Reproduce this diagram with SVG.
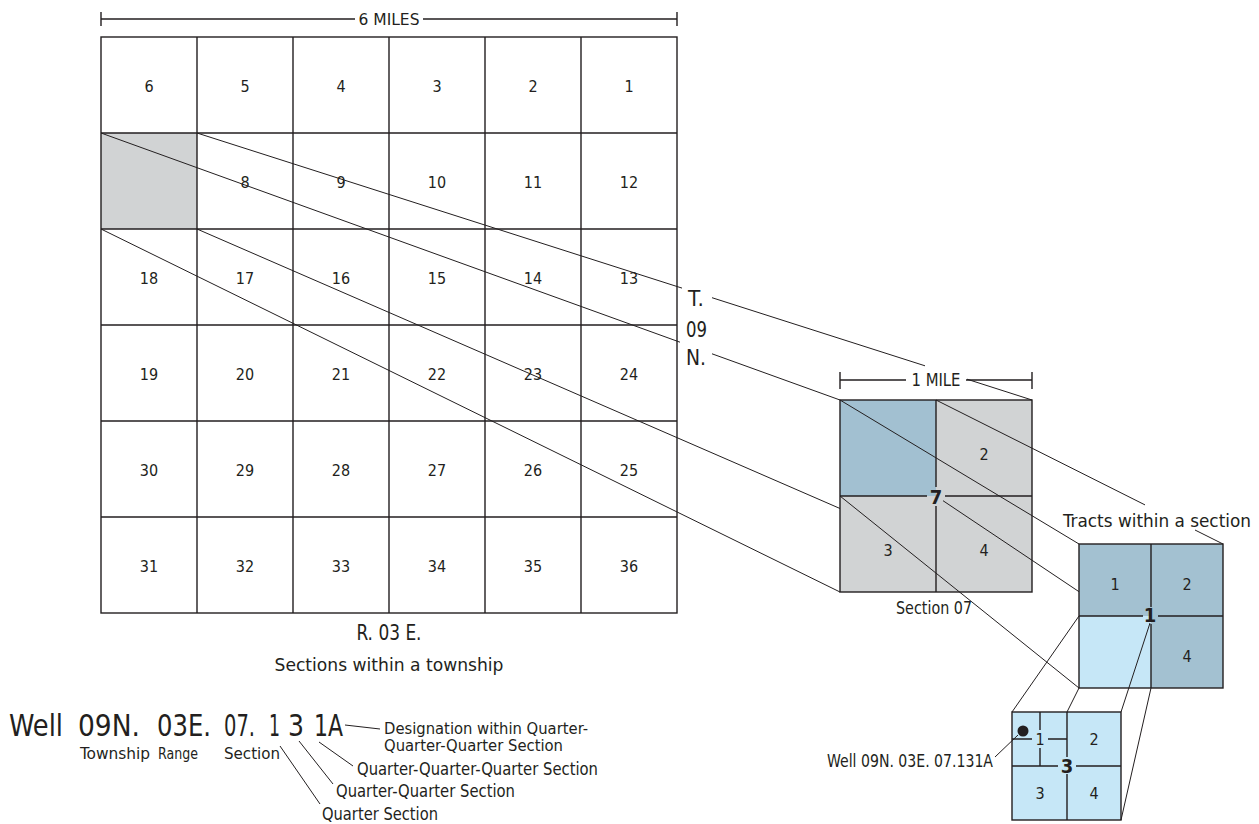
<svg xmlns="http://www.w3.org/2000/svg" width="1259" height="824" viewBox="0 0 1259 824">
<style>
text{font-family:"Liberation Sans Narrow","DejaVu Sans Condensed","Liberation Sans",sans-serif;fill:#231f20}
.num{font-size:16px;text-anchor:middle}
.grid{stroke:#231f20;stroke-width:1.4;fill:none}
.conn{stroke:#231f20;stroke-width:1;fill:none}
.bold{font-weight:bold;text-anchor:middle}
.mid{text-anchor:middle}
.qq{fill:#c6e7f7;stroke:#231f20;stroke-width:1.4}
</style>
<rect width="1259" height="824" fill="#ffffff"/>

<g id="scale-6-miles">
<path class="grid" d="M101,19H355M423,19H677M101,12V26M677,12V26" stroke-width="1"/>
<text x="389" y="25" class="mid" font-size="15" textLength="61" lengthAdjust="spacingAndGlyphs">6 MILES</text>
</g>

<g id="township">
<rect x="101" y="37" width="576" height="576" fill="#ffffff"/>
<rect x="101" y="133" width="96" height="96" fill="#d1d3d4"/>
<rect x="101" y="37" width="576" height="576" class="grid"/>
<path class="grid" d="M197,37V613M293,37V613M389,37V613M485,37V613M581,37V613M101,133H677M101,229H677M101,325H677M101,421H677M101,517H677"/>
<g class="num">
<text x="149" y="92">6</text><text x="245" y="92">5</text><text x="341" y="92">4</text><text x="437" y="92">3</text><text x="533" y="92">2</text><text x="629" y="92">1</text>
<text x="245" y="188">8</text><text x="341" y="188">9</text><text x="437" y="188">10</text><text x="533" y="188">11</text><text x="629" y="188">12</text>
<text x="149" y="284">18</text><text x="245" y="284">17</text><text x="341" y="284">16</text><text x="437" y="284">15</text><text x="533" y="284">14</text><text x="629" y="284">13</text>
<text x="149" y="380">19</text><text x="245" y="380">20</text><text x="341" y="380">21</text><text x="437" y="380">22</text><text x="533" y="380">23</text><text x="629" y="380">24</text>
<text x="149" y="476">30</text><text x="245" y="476">29</text><text x="341" y="476">28</text><text x="437" y="476">27</text><text x="533" y="476">26</text><text x="629" y="476">25</text>
<text x="149" y="572">31</text><text x="245" y="572">32</text><text x="341" y="572">33</text><text x="437" y="572">34</text><text x="533" y="572">35</text><text x="629" y="572">36</text>
</g>
<text x="389" y="640" class="mid" font-size="21" textLength="65" lengthAdjust="spacingAndGlyphs">R. 03 E.</text>
<text x="389" y="671" class="mid" font-size="18" textLength="229" lengthAdjust="spacingAndGlyphs">Sections within a township</text>
</g>

<g id="township-label">
<text x="688" y="306" font-size="22" textLength="16" lengthAdjust="spacingAndGlyphs">T.</text>
<text x="686" y="337" font-size="22" textLength="21" lengthAdjust="spacingAndGlyphs">09</text>
<text x="686" y="365" font-size="22" textLength="20" lengthAdjust="spacingAndGlyphs">N.</text>
</g>

<g id="scale-1-mile">
<path class="grid" d="M840,380H906M966,380H1032M840,372V389M1032,372V389" stroke-width="1"/>
<text x="936" y="386" class="mid" font-size="18" textLength="49" lengthAdjust="spacingAndGlyphs">1 MILE</text>
</g>

<g id="section-07">
<rect x="840" y="400" width="192" height="192" fill="#d1d3d4"/>
<rect x="840" y="400" width="96" height="96" fill="#a2c0d1"/>
<rect x="840" y="400" width="192" height="192" class="grid"/>
<path class="grid" d="M840,496H927M945,496H1032M936,400V487M936,506V592"/>
<text x="984" y="460" class="num" font-size="17">2</text>
<text x="888" y="556" class="num" font-size="17">3</text>
<text x="984" y="556" class="num" font-size="17">4</text>
<text x="936" y="504" class="bold" font-size="20">7</text>
<text x="934" y="614" class="mid" font-size="17" textLength="76" lengthAdjust="spacingAndGlyphs">Section 07</text>
</g>

<g id="tracts">
<rect x="1079" y="544" width="144" height="144" fill="#a3c1d1"/>
<rect x="1079" y="616" width="72" height="72" fill="#c6e7f7"/>
<rect x="1079" y="544" width="144" height="144" class="grid"/>
<path class="grid" d="M1079,616H1143M1158,616H1223M1151,544V607M1151,624V688"/>
<text x="1115" y="590" class="num" font-size="17">1</text>
<text x="1187" y="590" class="num" font-size="17">2</text>
<text x="1187" y="662" class="num" font-size="17">4</text>
<text x="1150" y="622" class="bold" font-size="20">1</text>
<text x="1157" y="527" class="mid" font-size="17" textLength="188" lengthAdjust="spacingAndGlyphs">Tracts within a section</text>
</g>

<g id="quarter-quarter">
<rect x="1012" y="712" width="109" height="108" class="qq"/>
<path class="grid" d="M1012,766H1058M1076,766H1121M1067,712V757M1067,774V820M1012,739H1032M1048,739H1067M1040,712V730M1040,748V766"/>
<text x="1040" y="745" class="num" font-size="17">1</text>
<text x="1094" y="745" class="num" font-size="17">2</text>
<text x="1040" y="799" class="num" font-size="17">3</text>
<text x="1094" y="799" class="num" font-size="17">4</text>
<text x="1067" y="773" class="bold" font-size="20">3</text>
</g>

<g id="well">
<circle cx="1023" cy="731" r="5.5" fill="#231f20"/>
<text x="827" y="767" font-size="18" textLength="166" lengthAdjust="spacingAndGlyphs">Well 09N. 03E. 07.131A</text>
</g>

<g id="connectors" class="conn">
<path d="M101,133L680,342.2M712,353.8L840,400"/>
<path d="M197,133L682,288.1M712,297.7L925,365.8M967,379.2L1032,400"/>
<path d="M101,229L840,592"/>
<path d="M197,229L840,508.5"/>
<path d="M840,400L1079,544"/>
<path d="M936,400L1145,504.9M1195,530L1223,544"/>
<path d="M840,496L1079,688"/>
<path d="M943,500.7L1079,591.7"/>
<path d="M1079,616L1012,712"/>
<path d="M1150,623L1121,712"/>
<path d="M1079,688L1067,712"/>
<path d="M1151,688L1121,820"/>
<path d="M1018,735L995,757"/>
<path d="M345,725L380,729"/>
<path d="M319,742L353,766"/>
<path d="M299,741L333,784"/>
<path d="M280,746L320,804"/>
</g>

<g id="notation">
<g font-size="31">
<text x="9" y="736" textLength="54" lengthAdjust="spacingAndGlyphs">Well</text>
<text x="78" y="736" textLength="62" lengthAdjust="spacingAndGlyphs">09N.</text>
<text x="157" y="736" textLength="54" lengthAdjust="spacingAndGlyphs">03E.</text>
<text x="224" y="736" textLength="31" lengthAdjust="spacingAndGlyphs">07.</text>
<text x="269" y="736" textLength="11" lengthAdjust="spacingAndGlyphs">1</text>
<text x="288" y="736" textLength="16" lengthAdjust="spacingAndGlyphs">3</text>
<text x="314" y="736" textLength="29" lengthAdjust="spacingAndGlyphs">1A</text>
</g>
<g font-size="16">
<text x="80" y="759" textLength="70" lengthAdjust="spacingAndGlyphs">Township</text>
<text x="158" y="759" textLength="40" lengthAdjust="spacingAndGlyphs">Range</text>
<text x="224" y="759" textLength="56" lengthAdjust="spacingAndGlyphs">Section</text>
</g>
<g font-size="16">
<text x="384" y="734" textLength="204" lengthAdjust="spacingAndGlyphs">Designation within Quarter-</text>
<text x="384" y="751" textLength="179" lengthAdjust="spacingAndGlyphs">Quarter-Quarter Section</text>
</g>
<g font-size="18">
<text x="357" y="775" textLength="241" lengthAdjust="spacingAndGlyphs">Quarter-Quarter-Quarter Section</text>
<text x="336" y="797" textLength="179" lengthAdjust="spacingAndGlyphs">Quarter-Quarter Section</text>
<text x="322" y="820" textLength="116" lengthAdjust="spacingAndGlyphs">Quarter Section</text>
</g>
</g>
</svg>
